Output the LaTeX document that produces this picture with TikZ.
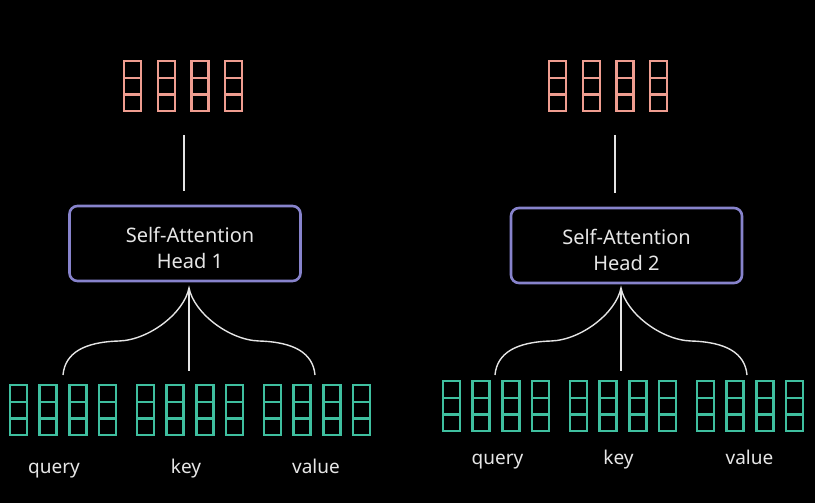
\documentclass[tikz,border=0pt]{standalone}
\usepackage{fontspec}
\setmainfont{Noto Sans}
\definecolor{outpink}{HTML}{EF9D90}
\definecolor{qkvgreen}{HTML}{3FBF9F}
\definecolor{headpurple}{HTML}{8783CC}
\definecolor{labelgrey}{HTML}{E6E6E6}
\tikzset{
  pics/vcol/.style={code={
    \draw (1,1) rectangle (18,51);
    \draw (1,18) -- (18,18) (1,34.5) -- (18,34.5);
  }},
  outcol/.style={color=outpink, line width=2.3pt},
  qkvcol/.style={color=qkvgreen, line width=2.6pt},
  headbox/.style={draw=headpurple, line width=2.6pt, rounded corners=8pt,
    minimum width=231pt, minimum height=75pt},
  headtext/.style={align=center, text=labelgrey, inner sep=0pt,
    font=\fontsize{20}{26}\selectfont},
  lbl/.style={text=labelgrey, anchor=base, inner sep=0pt,
    font=\fontsize{19}{22}\selectfont},
  wire/.style={draw=white!90!black, line width=1.4pt}
}
\begin{document}
\begin{tikzpicture}[x=1pt,y=-1pt]
\fill[black] (0,0) rectangle (815,503);
\useasboundingbox (0,0) rectangle (815,503);
\foreach \h/\px/\lx/\bx/\by/\tx/\ax/\gx/\gy/\qx/\kx/\vx/\ly in
  {1/123/184/185/243.5/5/189/9/384/54/186/316/473,
   2/548/615/626.5/245.5/0/621/442/380/497.5/618.5/749.5/464}{
  % output vectors
  \foreach \i in {0,...,3}
    \pic[outcol] at ({\px+\i*33.7},60) {vcol};
  % head
  \node[headbox] (head\h) at (\bx,\by) {};
  \node[headtext] (title\h) at ([xshift=\tx pt,yshift=-4pt]head\h.center)
    {Self-Attention\\Head \h};
  \coordinate (top\h) at (\lx,135);
  \draw[wire] (top\h) -- ([yshift=14pt]top\h |- head\h.north);
  % brace
  \coordinate (apex\h) at (\ax,288);
  \draw[wire] (apex\h) -- ++(0,83);
  \draw[wire] ([shift={(-126,87)}]apex\h)
    .. controls +(2,-22) and +(-35,1) .. ([shift={(-70,53)}]apex\h)
    .. controls +(30,-1) and +(-5,25) .. (apex\h)
    .. controls +(5,25) and +(-30,-1) .. ([shift={(70,53)}]apex\h)
    .. controls +(35,1) and +(-2,-22) .. ([shift={(126,87)}]apex\h);
  % query, key, value
  \foreach \g in {0,1,2}
    \foreach \i in {0,...,3}
      \pic[qkvcol] at ({\gx+\g*127+\i*29.6},\gy) {vcol};
  \node[lbl] (query\h) at (\qx,\ly) {query};
  \node[lbl] (key\h) at (\kx,\ly) {key};
  \node[lbl] (value\h) at (\vx,\ly) {value};
}
\end{tikzpicture}
\end{document}
